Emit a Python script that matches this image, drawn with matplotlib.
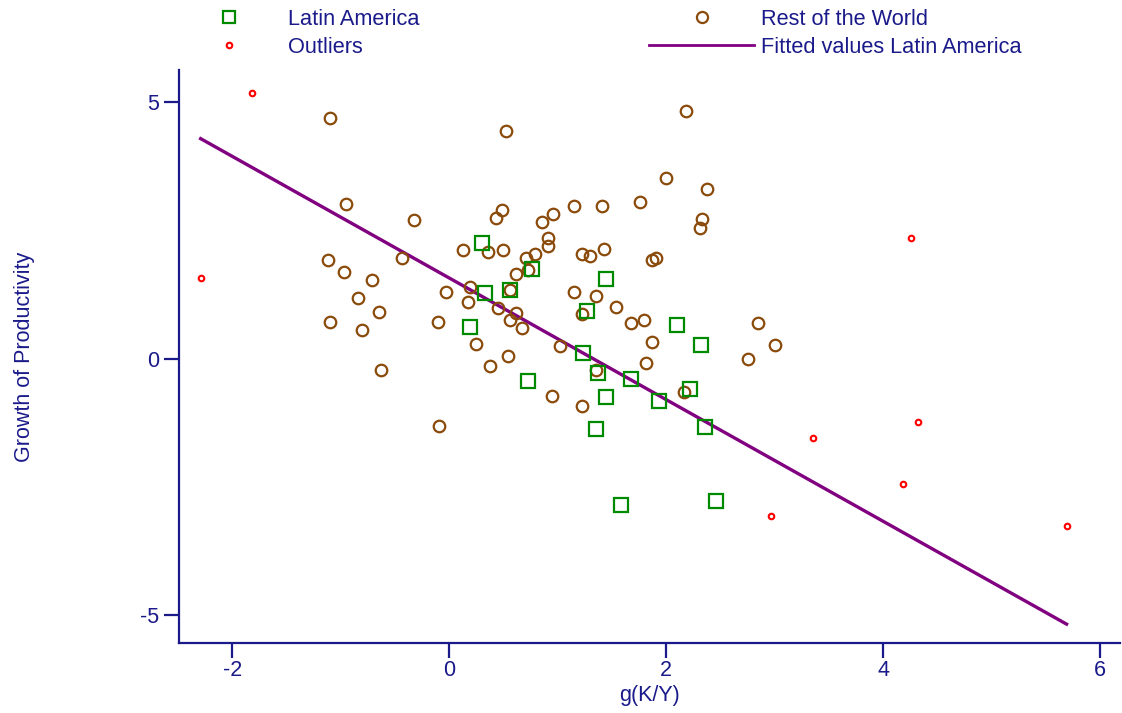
import matplotlib
matplotlib.use("Agg")
import matplotlib.pyplot as plt
from matplotlib.lines import Line2D

plt.rcParams['font.family'] = ['Liberation Sans', 'DejaVu Sans']
plt.rcParams['axes.unicode_minus'] = False

NAVY = '#1a1a8a'
GREEN = '#008a00'
BROWN = '#8a4a0a'
RED = '#ff0000'
PURPLE = '#800080'

# Latin America (g(K/Y), growth of productivity)
latam_x = [0.30, 0.33, 0.56, 0.76, 1.45, 0.19, 1.27, 2.10, 2.32, 1.23,
           1.37, 0.73, 1.68, 2.22, 1.45, 1.93, 1.35, 2.36, 1.58, 2.46]
latam_y = [2.26, 1.29, 1.35, 1.75, 1.56, 0.62, 0.94, 0.66, 0.27, 0.12,
           -0.27, -0.43, -0.39, -0.58, -0.74, -0.82, -1.36, -1.33, -2.85, -2.77]

# Rest of the World
row_x = [-1.10, 0.52, 2.18, -0.95, -0.32, 2.00, 2.38, 0.49, 0.43, 0.86,
         0.96, 1.15, 1.41, 1.76, 2.33, 2.31, 0.13, 0.36, 0.50, 0.91,
         0.91, 0.71, 0.79, 1.22, 1.30, 1.43, 1.87, 1.91, -0.43, -1.12,
         -0.97, -0.71, 0.62, 0.73, -0.03, 0.19, 0.17, -0.84, -0.65, -1.10,
         -0.10, -0.80, 0.25, 0.45, 0.56, 1.15, 1.35, 1.54, 0.62, 0.56,
         0.67, 1.22, 1.68, 1.80, 2.85, 3.00, 2.75, 1.02, 1.87, 0.38,
         0.54, 1.81, 1.35, 2.16, 0.95, 1.22, -0.09, -0.63]
row_y = [4.69, 4.44, 4.82, 3.02, 2.71, 3.53, 3.30, 2.90, 2.74, 2.66,
         2.83, 2.98, 2.98, 3.06, 2.72, 2.55, 2.12, 2.08, 2.12, 2.36,
         2.20, 1.96, 2.05, 2.05, 2.00, 2.13, 1.92, 1.96, 1.96, 1.92,
         1.69, 1.53, 1.65, 1.73, 1.30, 1.39, 1.10, 1.18, 0.91, 0.72,
         0.72, 0.56, 0.29, 0.99, 1.34, 1.30, 1.22, 1.00, 0.90, 0.76,
         0.60, 0.87, 0.69, 0.76, 0.69, 0.27, 0.00, 0.25, 0.33, -0.14,
         0.05, -0.09, -0.22, -0.64, -0.73, -0.92, -1.31, -0.21]

# Outliers
out_x = [-1.82, -2.29, 4.26, 4.32, 3.35, 4.18, 2.97, 5.69]
out_y = [5.17, 1.58, 2.36, -1.23, -1.54, -2.44, -3.06, -3.26]

# Fitted values Latin America (end points)
fit_x = [-2.29, 5.69]
fit_y = [4.29, -5.17]

fig = plt.figure(figsize=(11.22, 7.13), dpi=100)
ax = fig.add_axes([0.1595, 0.098, 0.8385, 0.804])

ax.plot(fit_x, fit_y, color=PURPLE, lw=2.4, zorder=2)
ax.plot(row_x, row_y, 'o', ms=8.3, mfc='none', mec=BROWN, mew=1.6, zorder=3)
ax.plot(latam_x, latam_y, 's', ms=9.5, mfc='none', mec=GREEN, mew=1.6, zorder=4)
ax.plot(out_x, out_y, 'o', ms=4, mfc='none', mec=RED, mew=1.5, zorder=5)

ax.set_xlim(-2.49, 6.18)
ax.set_ylim(-5.54, 5.63)
ax.set_xticks([-2, 0, 2, 4, 6])
ax.set_yticks([-5, 0, 5])

for s in ['top', 'right']:
    ax.spines[s].set_visible(False)
for s in ['left', 'bottom']:
    ax.spines[s].set_color(NAVY)
    ax.spines[s].set_linewidth(1.6)
ax.tick_params(colors=NAVY, labelcolor=NAVY, length=11, width=1.6,
               labelsize=15.5, pad=3)
ax.tick_params(axis='x', pad=1)

ax.set_xlabel('g(K/Y)', color=NAVY, fontsize=15.5)
ax.set_ylabel('Growth of Productivity', color=NAVY, fontsize=15.5)
ax.xaxis.set_label_coords(0.5, -0.073)
ax.yaxis.set_label_coords(-0.153, 0.5)

handles = [
    Line2D([], [], ls='none', marker='s', ms=9, mfc='none', mec=GREEN, mew=1.6),
    Line2D([], [], ls='none', marker='o', ms=4, mfc='none', mec=RED, mew=1.5),
    Line2D([], [], ls='none', marker='o', ms=8, mfc='none', mec=BROWN, mew=1.6),
    Line2D([], [], color=PURPLE, lw=2),
]
labels = ['Latin America', 'Outliers', 'Rest of the World',
          'Fitted values Latin America']
leg = fig.legend(handles, labels, ncol=2, loc='upper left',
                 bbox_to_anchor=(177 / 1122, 1 - 9 / 713), frameon=False,
                 fontsize=15.7, handlelength=4.8, handletextpad=0.3,
                 columnspacing=10.53, labelspacing=0.3, borderpad=0,
                 borderaxespad=0)
for t in leg.get_texts():
    t.set_color(NAVY)

fig.savefig('out.png', dpi=100)
